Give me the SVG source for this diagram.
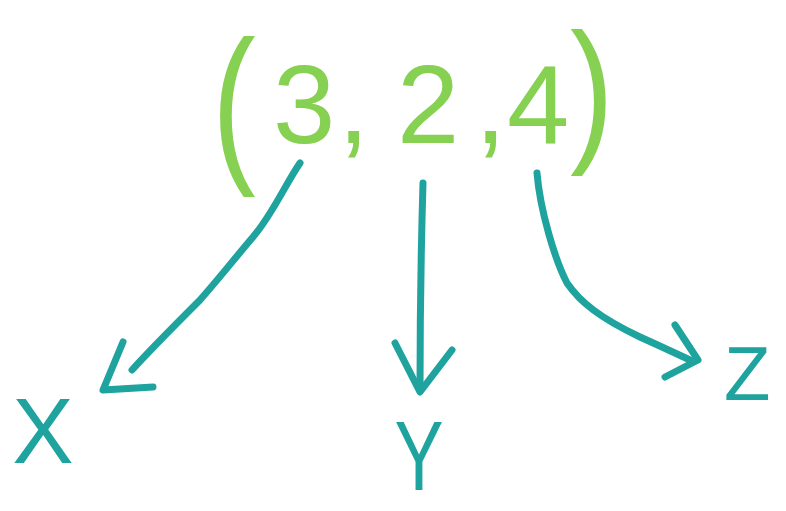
<svg xmlns="http://www.w3.org/2000/svg" width="786" height="511" viewBox="0 0 786 511">
<style>
.g{fill:#86d052;font-family:"Liberation Sans",Arial,sans-serif}
.t{fill:#1fa39e;font-family:"Liberation Sans",Arial,sans-serif}
.c{fill:none;stroke:#1fa39e;stroke-width:7;stroke-linecap:round;stroke-linejoin:round}
</style>
<rect width="786" height="511" fill="#ffffff"/>
<g id="tuple">
<text class="g" transform="translate(212 161) scale(1.25 1.65)" font-size="105">(</text>
<text class="g" x="273 338 397 475 507" y="143" font-size="112">3,2,4</text>
<text class="g" transform="translate(570 143) scale(1.25 1.5)" font-size="105">)</text>
</g>
<g id="x"><text class="t" x="43" y="463" font-size="92" text-anchor="middle">X</text></g>
<g id="y"><text class="t" transform="translate(419 490) scale(0.75 1)" font-size="98" text-anchor="middle">Y</text></g>
<g id="z"><text class="t" x="724" y="400" font-size="76">Z</text></g>
<g id="connectors">
<path class="c" d="M300,163 C285,185 272,215 253,237 C235,258 222,275 200,300 C180,320 150,350 132,370"/>
<path class="c" d="M123,342 L103,390 L153,387"/>
<path class="c" d="M423,183 C421,250 420,330 420,390"/>
<path class="c" d="M395,343 L420,392 L452,350"/>
<path class="c" d="M537,173 C540,210 555,260 567,283 C580,302 600,318 640,337 C660,346 675,353 690,360"/>
<path class="c" d="M675,325 L698,360 L665,377"/>
</g>
</svg>
